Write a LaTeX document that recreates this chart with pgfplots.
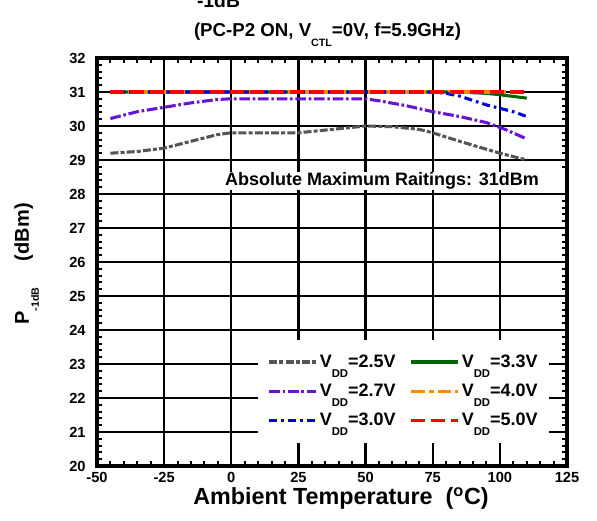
\documentclass[border=0pt]{standalone}
\usepackage{pgfplots}
\pgfplotsset{compat=1.18}
\usepackage{fontspec}
\setmainfont{Liberation Sans}
\definecolor{cgray}{RGB}{85,85,85}
\definecolor{cgreen}{RGB}{0,100,0}
\definecolor{cpurple}{RGB}{102,20,214}
\definecolor{corange}{RGB}{255,140,0}
\definecolor{cblue}{RGB}{0,0,210}
\definecolor{cred}{RGB}{255,0,0}
\newcommand{\sub}[2][8]{\smash{\raisebox{-7.5pt}{\fontsize{#1}{#1}\selectfont #2}}}
\begin{document}
\begin{tikzpicture}
\begin{axis}[
  scale only axis,
  width=352.5pt, height=306pt,
  xmin=-50, xmax=125, ymin=20, ymax=32,
  xtick={-50,-25,...,125}, ytick={20,21,...,32},
  minor x tick num=4, minor y tick num=4,
  tick align=inside, xtick pos=both, ytick pos=both,
  major tick length=0pt, minor tick length=3.8pt,
  grid=major,
  major grid style={black, line width=1.8pt},
  axis line style={line width=2.4pt},
  every tick/.style={black, line width=1.4pt},
  tick label style={font=\fontsize{11}{13}\selectfont\bfseries},
  xticklabel style={yshift=-1.5pt},
  yticklabel style={xshift=-5pt},
  /pgf/number format/assume math mode=true,
  legend columns=2,
  legend style={at={(rel axis cs:0.3426,0.3088)}, anchor=north west, draw=none, fill=white,
    font=\fontsize{13.5}{15}\selectfont\bfseries, row sep=8pt, inner xsep=7pt, inner ysep=9.5pt,
    nodes={inner sep=1.5pt},
    /tikz/every even column/.append style={column sep=9pt}},
  legend cell align=left,
  every axis plot/.append style={line width=2.3pt},
  legend image post style={line width=2.6pt},
  legend image code/.code={\draw plot coordinates {(0pt,0pt) (35pt,0pt)};},
]
\addplot[cgray, dash pattern=on 6pt off 1.6pt on 3pt off 1.6pt] coordinates {(-45,29.2) (-35,29.25) (-25,29.35) (-15,29.55) (-5,29.75) (0,29.8) (25,29.8) (40,29.92) (50,30.0) (60,29.98) (70,29.9) (75,29.8) (85,29.55) (100,29.2) (110,29.0)};
\addlegendentry{V\sub[8.5]{DD}=2.5V}
\addplot[cgreen] coordinates {(-45,31) (85,31) (95,30.96) (100,30.92) (110,30.82)};
\addlegendentry{V\sub[8.5]{DD}=3.3V}
\addplot[cpurple, dash pattern=on 8pt off 2pt on 2pt off 2pt] coordinates {(-45,30.22) (-35,30.42) (-25,30.55) (-15,30.68) (-5,30.78) (0,30.8) (50,30.8) (55,30.74) (65,30.6) (75,30.42) (85,30.28) (95,30.1) (102,29.9) (110,29.62)};
\addlegendentry{V\sub[8.5]{DD}=2.7V}
\addplot[corange, dash pattern=on 10pt off 3pt on 4pt off 3pt] coordinates {(-45,31) (110,31)};
\addlegendentry{V\sub[8.5]{DD}=4.0V}
\addplot[cblue, dash pattern=on 6pt off 3pt on 2pt off 3pt] coordinates {(-45,31) (75,31) (80,30.96) (85,30.88) (95,30.62) (105,30.42) (110,30.28)};
\addlegendentry{V\sub[8.5]{DD}=3.0V}
\addplot[cred, dash pattern=on 10pt off 5pt] coordinates {(-45,31) (110,31)};
\addlegendentry{V\sub[8.5]{DD}=5.0V}
\fill[white] (axis cs:-3.4,28.12) rectangle (axis cs:124.3,28.65);
\node[anchor=west, inner sep=0pt, font=\fontsize{13.5}{15}\selectfont\bfseries] at (axis cs:-2.4,28.38) {Absolute Maximum Raitings: 31dBm};
\end{axis}
\begin{scope}[shift={(current axis.north west)}, x=0.75pt, y=-0.75pt]
\node[font=\fontsize{14}{16}\selectfont\bfseries, anchor=base] at (230.5,-21) {(PC-P2 ON, V\sub[8]{CTL}=0V, f=5.9GHz)};
\node[font=\fontsize{14.5}{16}\selectfont\bfseries, anchor=base] at (121.5,-50) {-1dB};
\node[font=\fontsize{17.5}{20}\selectfont\bfseries, anchor=base] at (244,446.5) {Ambient Temperature\ \ (\textsuperscript{o}C)};
\node[font=\fontsize{15}{17}\selectfont\bfseries, anchor=base, rotate=90] at (-68,206) {P\sub[8]{-1dB}\hspace{20pt}(dBm)};
\pgfresetboundingbox
\useasboundingbox (-97,-58) rectangle (500,463);
\end{scope}
\end{tikzpicture}
\end{document}
